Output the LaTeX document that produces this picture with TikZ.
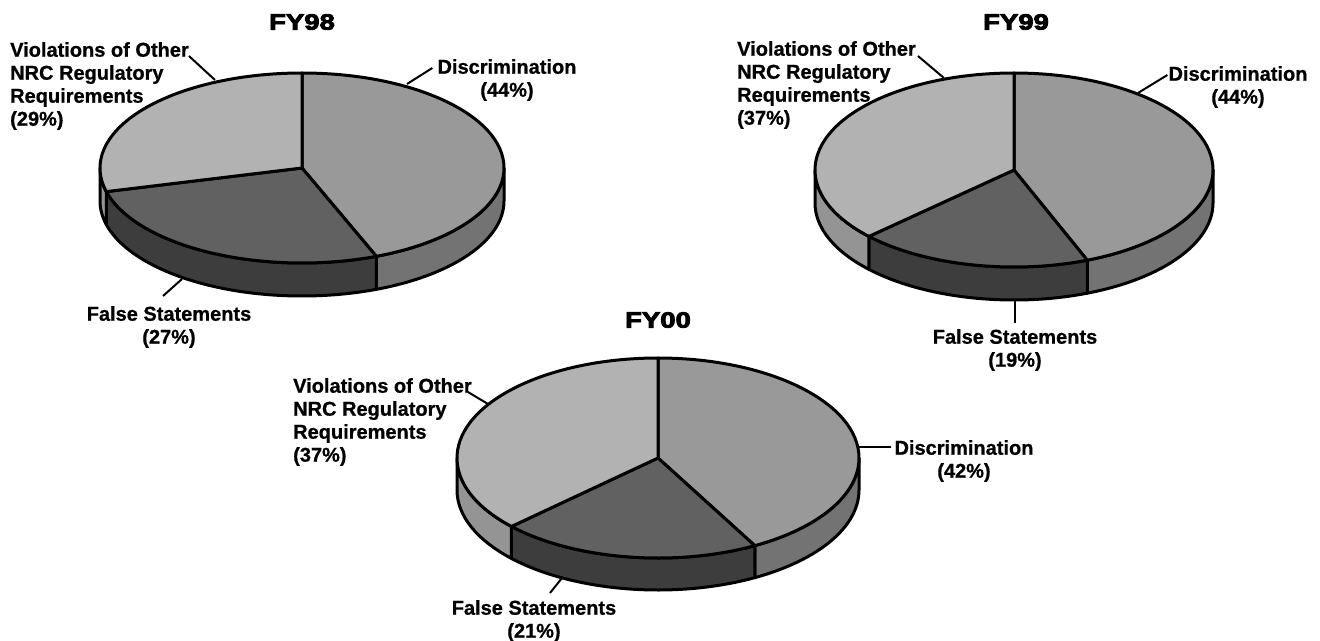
\documentclass[tikz,border=0pt]{standalone}
\usepackage{fontspec}
\setmainfont{Liberation Sans}[BoldFeatures={FakeBold=0.8}]
\newfontfamily\titlefont{Liberation Sans}[FakeStretch=1.25, BoldFeatures={FakeBold=4}]
\usepackage{tikz}
\usetikzlibrary{positioning}

% one 3D pie: centre x, centre y, x radius, y radius, depth, discrimination %, false statements %
\newcommand{\threedpie}[7]{%
  \begin{scope}[shift={(#1,#2)}, yscale=-1]
    \pgfmathsetmacro\pieA{90-3.6*#6}
    \pgfmathsetmacro\pieB{\pieA-3.6*#7}
    % sides
    \filldraw[pieline, discside] (0:#3 and #4) arc[start angle=0, end angle=\pieA, x radius=#3, y radius=#4]
      -- ++(0,-#5) arc[start angle=\pieA, end angle=0, x radius=#3, y radius=#4] -- cycle;
    \filldraw[pieline, falseside] (\pieA:#3 and #4) arc[start angle=\pieA, end angle=\pieB, x radius=#3, y radius=#4]
      -- ++(0,-#5) arc[start angle=\pieB, end angle=\pieA, x radius=#3, y radius=#4] -- cycle;
    \filldraw[pieline, violside] (\pieB:#3 and #4) arc[start angle=\pieB, end angle=-180, x radius=#3, y radius=#4]
      -- ++(0,-#5) arc[start angle=-180, end angle=\pieB, x radius=#3, y radius=#4] -- cycle;
    % top
    \filldraw[pieline, disctop] (0,0) -- (90:#3 and #4) arc[start angle=90, end angle=\pieA, x radius=#3, y radius=#4] -- cycle;
    \filldraw[pieline, falsetop] (0,0) -- (\pieA:#3 and #4) arc[start angle=\pieA, end angle=\pieB, x radius=#3, y radius=#4] -- cycle;
    \filldraw[pieline, violtop] (0,0) -- (\pieB:#3 and #4) arc[start angle=\pieB, end angle=-270, x radius=#3, y radius=#4] -- cycle;
  \end{scope}}

\begin{document}
\begin{tikzpicture}[x=1pt, y=-1pt,
    pieline/.style={draw=black, line width=3pt, line join=round},
    violtop/.style={fill=black!30}, violside/.style={fill=black!42},
    disctop/.style={fill=black!40}, discside/.style={fill=black!55},
    falsetop/.style={fill=black!62}, falseside/.style={fill=black!76},
    lbl/.style={inner sep=0pt, font=\bfseries\fontsize{20}{23}\selectfont},
    titlelbl/.style={inner sep=0pt, font=\titlefont\bfseries\fontsize{22}{24}\selectfont},
    leader/.style={line width=2pt}]
    \useasboundingbox (0,0) rectangle (1320,640);

    % FY98
    \threedpie{302}{168}{202}{95}{33}{44}{27}
    \node[titlelbl] (t98) at (302,22) {FY98};
    \node[lbl, align=left, anchor=north west] (v98) at (10,42) {Violations of Other\\NRC Regulatory\\Requirements\\(29\%)};
    \node[lbl, align=center, anchor=north] (d98) at (507,59) {Discrimination\\(44\%)};
    \node[lbl, align=center, anchor=north] (f98) at (169,306) {False Statements\\(27\%)};
    \coordinate (v98e) at (215,80);
    \coordinate (d98e) at (407,84);
    \coordinate (f98e) at (182,279);
    \draw[leader] ([yshift=-14pt]v98.north east) -- (v98e);
    \draw[leader] ([xshift=-5pt,yshift=-9pt]d98.north west) -- (d98e);
    \draw[leader] ([xshift=-6pt,yshift=10pt]f98.north) -- (f98e);

    % FY99
    \threedpie{1014}{170}{199}{97}{33}{44}{19}
    \node[titlelbl] (t99) at (1016,22) {FY99};
    \node[lbl, align=left, anchor=north west] (v99) at (737,41) {Violations of Other\\NRC Regulatory\\Requirements\\(37\%)};
    \node[lbl, align=center, anchor=north] (d99) at (1238,66) {Discrimination\\(44\%)};
    \node[lbl, align=center, anchor=north] (f99) at (1015,329) {False Statements\\(19\%)};
    \coordinate (v99e) at (944,78);
    \coordinate (d99e) at (1138,93);
    \coordinate (f99e) at (1015,300);
    \draw[leader] ([xshift=2pt,yshift=-15pt]v99.north east) -- (v99e);
    \draw[leader] ([xshift=-1pt,yshift=-9pt]d99.north west) -- (d99e);
    \draw[leader] ([yshift=6pt]f99.north) -- (f99e);

    % FY00
    \threedpie{658}{458}{201}{100}{32}{42}{21}
    \node[titlelbl] (t00) at (658,320) {FY00};
    \node[lbl, align=left, anchor=north west] (v00) at (293,378) {Violations of Other\\NRC Regulatory\\Requirements\\(37\%)};
    \node[lbl, align=center, anchor=north] (d00) at (964,440) {Discrimination\\(42\%)};
    \node[lbl, align=center, anchor=north] (f00) at (534,600) {False Statements\\(21\%)};
    \coordinate (v00e) at (488,404);
    \coordinate (d00e) at (859,447);
    \coordinate (f00e) at (562,578);
    \draw[leader] ([xshift=-4pt,yshift=-14pt]v00.north east) -- (v00e);
    \draw[leader] ([xshift=-3pt,yshift=-7pt]d00.north west) -- (d00e);
    \draw[leader] ([xshift=16pt,yshift=7pt]f00.north) -- (f00e);
\end{tikzpicture}
\end{document}
